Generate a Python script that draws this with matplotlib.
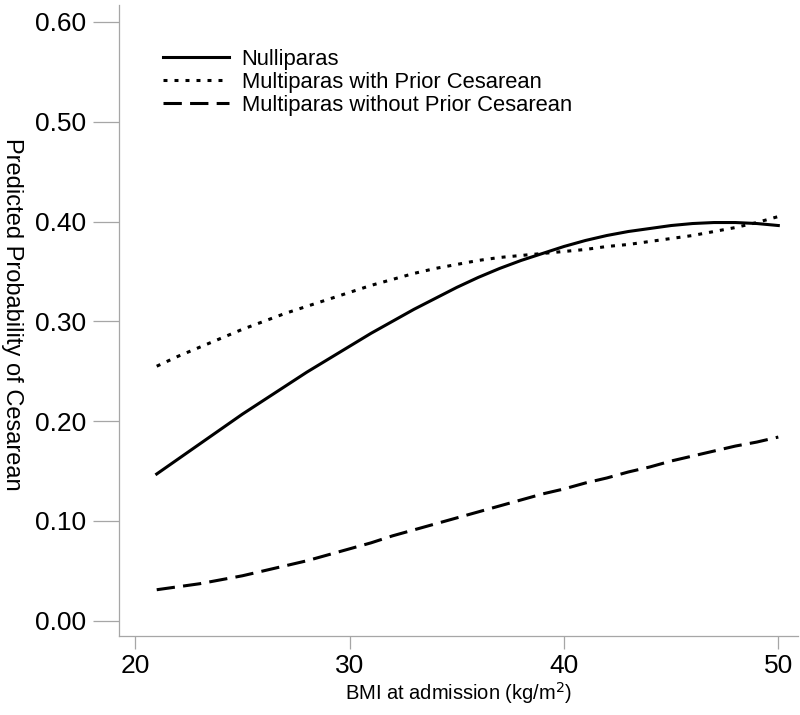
import matplotlib
matplotlib.use("Agg")
import matplotlib.pyplot as plt

plt.rcParams['font.family'] = ['Liberation Sans', 'DejaVu Sans']

bmi = list(range(21, 51))

nulliparas = [0.147, 0.162, 0.177, 0.192, 0.207, 0.221, 0.235, 0.249, 0.262, 0.275,
              0.288, 0.300, 0.312, 0.323, 0.334, 0.344, 0.353, 0.361, 0.368, 0.375,
              0.381, 0.386, 0.390, 0.393, 0.396, 0.398, 0.399, 0.399, 0.398, 0.396]

multi_prior = [0.255, 0.265, 0.274, 0.283, 0.292, 0.300, 0.308, 0.315, 0.322, 0.329,
               0.336, 0.342, 0.348, 0.353, 0.357, 0.361, 0.364, 0.366, 0.368, 0.370,
               0.372, 0.375, 0.377, 0.380, 0.383, 0.386, 0.390, 0.394, 0.399, 0.405]

multi_noprior = [0.031, 0.034, 0.037, 0.041, 0.045, 0.050, 0.055, 0.060, 0.066, 0.072,
                 0.078, 0.085, 0.091, 0.097, 0.103, 0.109, 0.115, 0.121, 0.127, 0.132,
                 0.138, 0.143, 0.149, 0.154, 0.160, 0.165, 0.170, 0.175, 0.179, 0.184]

labels = ["Nulliparas", "Multiparas with Prior Cesarean",
          "Multiparas without Prior Cesarean"]

xticks = [20, 30, 40, 50]
yticks = [0.0, 0.1, 0.2, 0.3, 0.4, 0.5, 0.6]

fig = plt.figure(figsize=(8, 7.15), dpi=100)
ax = fig.add_axes([0.149, 0.111, 0.848, 0.882])

lw = 2.2
ax.plot(bmi, nulliparas, color='black', lw=lw, label=labels[0])
ax.plot(bmi, multi_prior, color='black', lw=lw, linestyle=(0, (1.3, 2.3)), label=labels[1])
ax.plot(bmi, multi_noprior, color='black', lw=lw, linestyle=(0, (6, 2.7)), label=labels[2])

ax.set_xlim(19.25, 50.9)
ax.set_ylim(-0.015, 0.617)

for s in ['top', 'right']:
    ax.spines[s].set_visible(False)
for s in ['left', 'bottom']:
    ax.spines[s].set_color('#a6a6a6')
    ax.spines[s].set_linewidth(0.9)

ax.set_xticks(xticks)
ax.set_yticks(yticks)
ax.set_yticklabels([f"{v:.2f}" for v in yticks])
ax.tick_params(axis='y', length=19, width=0.9, color='#a6a6a6', labelsize=19, pad=5)
ax.tick_params(axis='x', length=9, width=0.9, color='#a6a6a6', labelsize=19, pad=4)

ax.set_xlabel("BMI at admission (kg/m$^2$)", fontsize=14.5, labelpad=2)
ax.set_ylabel("Predicted Probability of Cesarean", fontsize=17, rotation=-90,
              va='center', ha='center')
ax.yaxis.set_label_coords(-0.158, 0.51)

leg = ax.legend(loc='upper left', bbox_to_anchor=(0.035, 0.962), frameon=False,
                fontsize=15.8, handlelength=3.0, handletextpad=0.6, labelspacing=0.1)

fig.savefig("out.png", dpi=100)
